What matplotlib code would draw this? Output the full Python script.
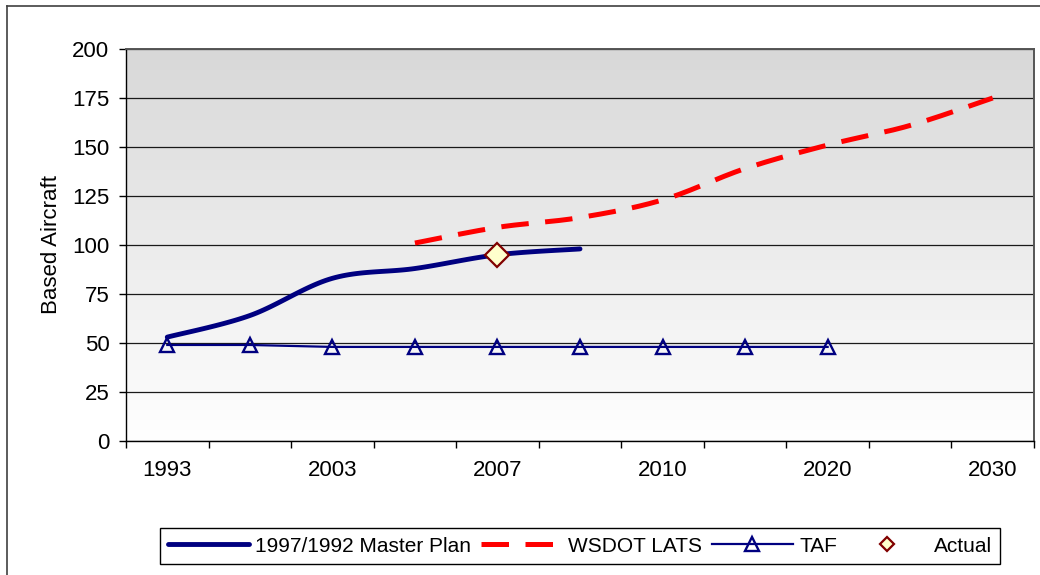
import matplotlib
matplotlib.use("Agg")
import matplotlib.pyplot as plt
import numpy as np
from matplotlib.colors import LinearSegmentedColormap
from matplotlib.lines import Line2D

plt.rcParams["font.family"] = ["Liberation Sans", "DejaVu Sans"]

# category axis (only every second label is shown in the original)
tick_labels = ["1993", "", "2003", "", "2007", "", "2010", "", "2020", "", "2030"]

# series values, one per category
master_plan = [53, 64, 83, 88, 95, 98]
wsdot_start = 3
wsdot_lats = [101, 109, 114, 123, 139, 151, 161, 175]
taf = [49, 49, 48, 48, 48, 48, 48, 48, 48]
actual_cat = 4
actual = [95]

y_ticks = [0, 25, 50, 75, 100, 125, 150, 175, 200]


def smooth(x, y, n=24):
    # catmull-rom, close to excel's "smoothed line"
    x = np.asarray(x, float)
    y = np.asarray(y, float)
    px = np.concatenate([[x[0]], x, [x[-1]]])
    py = np.concatenate([[y[0]], y, [y[-1]]])
    xs, ys = [], []
    for i in range(1, len(px) - 2):
        t = np.linspace(0, 1, n, endpoint=False)
        for p, out in ((px, xs), (py, ys)):
            p0, p1, p2, p3 = p[i - 1], p[i], p[i + 1], p[i + 2]
            out.extend(0.5 * (2 * p1 + (-p0 + p2) * t
                              + (2 * p0 - 5 * p1 + 4 * p2 - p3) * t ** 2
                              + (-p0 + 3 * p1 - 3 * p2 + p3) * t ** 3))
    xs.append(x[-1])
    ys.append(y[-1])
    return np.array(xs), np.array(ys)


fig = plt.figure(figsize=(10.4, 5.75), dpi=100)
ax = fig.add_axes([126 / 1040, 1 - 441 / 575, 908 / 1040, 392 / 575])

n_cat = len(tick_labels)
ax.set_xlim(-0.5, n_cat - 0.5)
ax.set_ylim(0, 200)

# gray to white gradient of the plot area
grad = LinearSegmentedColormap.from_list("bg", ["#ffffff", "#d8d8d8"])
ax.imshow(np.linspace(0, 1, 256).reshape(-1, 1), extent=[-0.5, n_cat - 0.5, 0, 200],
          origin="lower", aspect="auto", cmap=grad, zorder=0)

ax.set_yticks(y_ticks)
ax.yaxis.grid(True, color="#1a1a1a", lw=0.9, zorder=1)
ax.set_axisbelow(True)

mx, my = smooth(range(len(master_plan)), master_plan)
ax.plot(mx, my, color="#000080", lw=3.5, solid_capstyle="round",
        label="1997/1992 Master Plan", zorder=3)

wx, wy = smooth(range(wsdot_start, wsdot_start + len(wsdot_lats)), wsdot_lats)
ax.plot(wx, wy, color="#ff0000", lw=3.6, dashes=(5.5, 3.3), dash_capstyle="butt",
        label="WSDOT LATS", zorder=3)

ax.plot(range(len(taf)), taf, color="#000080", lw=1.6, marker="^", markersize=10,
        markerfacecolor="none", markeredgecolor="#000080", markeredgewidth=1.7,
        label="TAF", zorder=4)

ax.plot([actual_cat], actual, linestyle="none", marker="D", markersize=12,
        markerfacecolor="#ffffcc", markeredgecolor="#800000", markeredgewidth=1.6,
        label="Actual", zorder=5)

# ticks: marks on category boundaries, labels on centers
ax.set_xticks(range(n_cat))
ax.set_xticklabels(tick_labels)
ax.set_xticks(np.arange(-0.5, n_cat, 1), minor=True)
ax.tick_params(axis="x", which="major", length=0, pad=14, labelsize=16)
ax.tick_params(axis="x", which="minor", length=5, width=1, color="#000000")
ax.tick_params(axis="y", length=5, width=1, pad=7, labelsize=16)

for s in ("left", "bottom"):
    ax.spines[s].set_color("#000000")
    ax.spines[s].set_linewidth(1.0)
for s in ("top", "right"):
    ax.spines[s].set_color("#555555")
    ax.spines[s].set_linewidth(1.4)

ax.set_ylabel("Based Aircraft", fontsize=16)
ax.yaxis.set_label_coords(-0.071, 0.5)

leg = fig.legend(loc="center", bbox_to_anchor=(580 / 1040, 1 - 546 / 575), ncol=4,
                 fontsize=15, frameon=True, fancybox=False, edgecolor="#000000",
                 framealpha=1, handlelength=3.9, handletextpad=0.3, columnspacing=0.45,
                 borderpad=0.4)
leg.get_frame().set_linewidth(1.0)
leg.legend_handles[3].set_markersize(7)

# outer chart border
x0 = 7 / 1040
top = 1 - 5.5 / 575
fig.add_artist(Line2D([x0, x0], [0, top], color="#404040", lw=1.2))
fig.add_artist(Line2D([x0, 1], [top, top], color="#404040", lw=1.2))

fig.savefig("out.png", dpi=100)
